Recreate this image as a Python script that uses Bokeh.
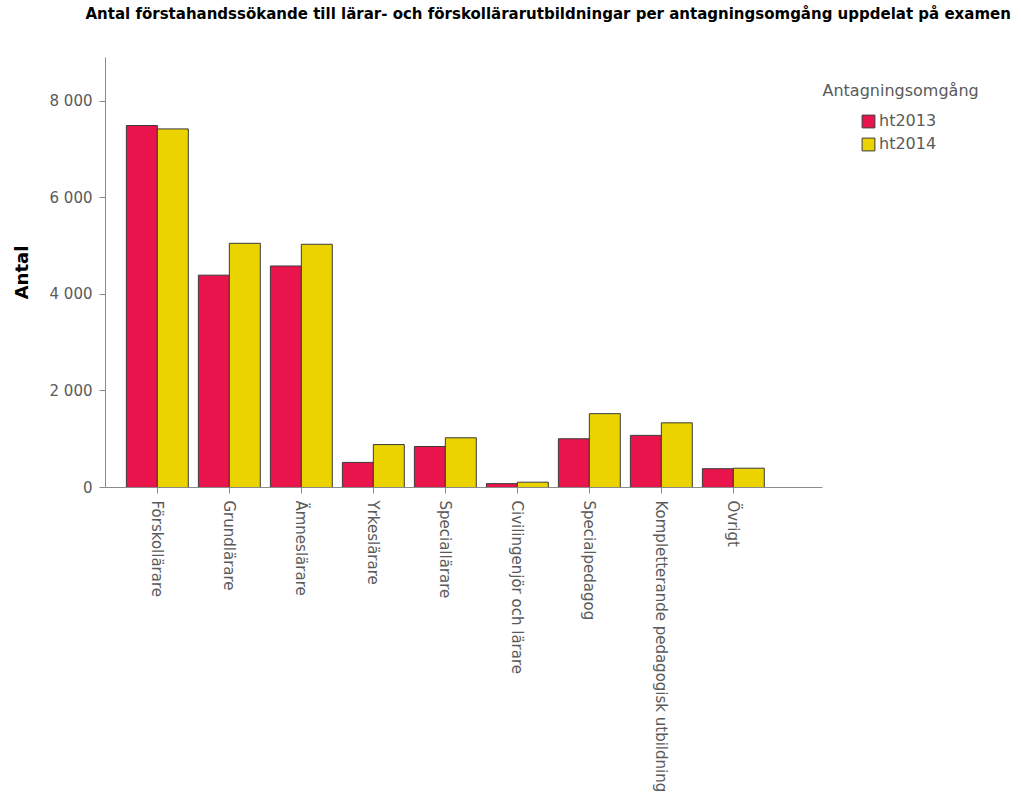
import math
from bokeh.plotting import figure
from bokeh.models import (ColumnDataSource, Range1d, FixedTicker, Legend, LegendItem, Label, Title)
from bokeh.transform import dodge
from bokeh.embed import file_html
from bokeh.resources import INLINE

# ---- data ----
categories = ["Förskollärare", "Grundlärare", "Ämneslärare", "Yrkeslärare",
              "Speciallärare", "Civilingenjör och lärare", "Specialpedagog",
              "Kompletterande pedagogisk utbildning", "Övrigt"]
ht2013 = [7500, 4400, 4590, 520, 850, 80, 1010, 1080, 390]
ht2014 = [7430, 5060, 5040, 890, 1030, 110, 1530, 1340, 400]
series = ["ht2013", "ht2014"]
colors = ["#E8144B", "#EBD300"]
y_ticks = [0, 2000, 4000, 6000, 8000]
y_tick_labels = ["0", "2 000", "4 000", "6 000", "8 000"]
legend_title = "Antagningsomgång"
chart_title = ("Antal förstahandssökande till lärar- och förskollärarutbildningar "
               "per antagningsomgång uppdelat på examen")

idx = list(range(len(categories)))
source = ColumnDataSource(dict(x=idx, ht2013=ht2013, ht2014=ht2014))

FONT = "DejaVu Sans"
TXT = "#5a5a5a"

# layout: the frame reaches the right edge so the legend fits inside it;
# the x axis line is bounded to the category area
FRAME_W, FRAME_H = 905, 430
PX_PER_CAT = 72
x_start = -0.72
x_end = x_start + FRAME_W / PX_PER_CAT
axis_end = len(categories) + 0.24

p = figure(frame_width=FRAME_W, frame_height=FRAME_H,
           x_range=Range1d(x_start, x_end),
           y_range=Range1d(0, 8910),
           output_backend="svg", toolbar_location=None,
           min_border_left=105, min_border_right=5, min_border_top=10,
           min_border_bottom=10)
p.background_fill_color = "white"
p.border_fill_color = "white"
p.outline_line_color = None
p.grid.visible = False

bw = 0.43
r1 = p.vbar(x=dodge("x", -bw / 2, range=p.x_range), top="ht2013", width=bw, source=source,
            fill_color=colors[0], line_color="#3a3a3a", line_width=1)
r2 = p.vbar(x=dodge("x", bw / 2, range=p.x_range), top="ht2014", width=bw, source=source,
            fill_color=colors[1], line_color="#3a3a3a", line_width=1)

# the real title (outermost in the top panel)
p.title.text = chart_title
p.title.text_font = FONT
p.title.text_font_size = "15px"
p.title.text_font_style = "bold"
p.title.text_color = "black"
p.title.align = "left"
p.title.vertical_align = "top"
p.title.offset = -20
p.title.standoff = 8

# blank spacer between the title and the frame
p.add_layout(Title(text=" ", text_font=FONT, text_font_size="15px", standoff=9), "above")

# axes
for ax in (p.xaxis[0], p.yaxis[0]):
    ax.axis_line_color = "#8a8a8a"
    ax.major_tick_line_color = "#8a8a8a"
    ax.major_tick_out = 6
    ax.major_tick_in = 0
    ax.minor_tick_line_color = None
    ax.major_label_text_font = FONT
    ax.major_label_text_font_size = "15px"
    ax.major_label_text_color = TXT
    ax.major_label_standoff = 7

p.xaxis.bounds = (x_start, axis_end)
p.xaxis.ticker = FixedTicker(ticks=idx)
p.xaxis.major_label_overrides = {i: c for i, c in zip(idx, categories)}
p.xaxis.major_label_orientation = -math.pi / 2

p.yaxis.ticker = FixedTicker(ticks=y_ticks)
p.yaxis.major_label_overrides = {t: l for t, l in zip(y_ticks, y_tick_labels)}
p.yaxis.axis_label = "Antal"
p.yaxis.axis_label_text_font = FONT
p.yaxis.axis_label_text_font_size = "18px"
p.yaxis.axis_label_text_font_style = "bold"
p.yaxis.axis_label_text_color = "black"
p.yaxis.axis_label_standoff = 15

# legend title
p.add_layout(Label(x=717, y=397, x_units="screen", y_units="screen",
                   text=legend_title, text_font=FONT, text_font_size="16px",
                   text_color=TXT, text_baseline="middle", text_align="left"))

# legend
legend = Legend(items=[LegendItem(label=series[0], renderers=[r1]),
                       LegendItem(label=series[1], renderers=[r2])],
                location=(755, 334), padding=0, margin=0, spacing=4,
                glyph_width=16, glyph_height=16, label_standoff=3,
                label_text_font=FONT, label_text_font_size="16px",
                label_text_color=TXT, border_line_color=None,
                background_fill_alpha=0)
p.add_layout(legend, "center")

open("out.html", "w").write(file_html(p, INLINE))
